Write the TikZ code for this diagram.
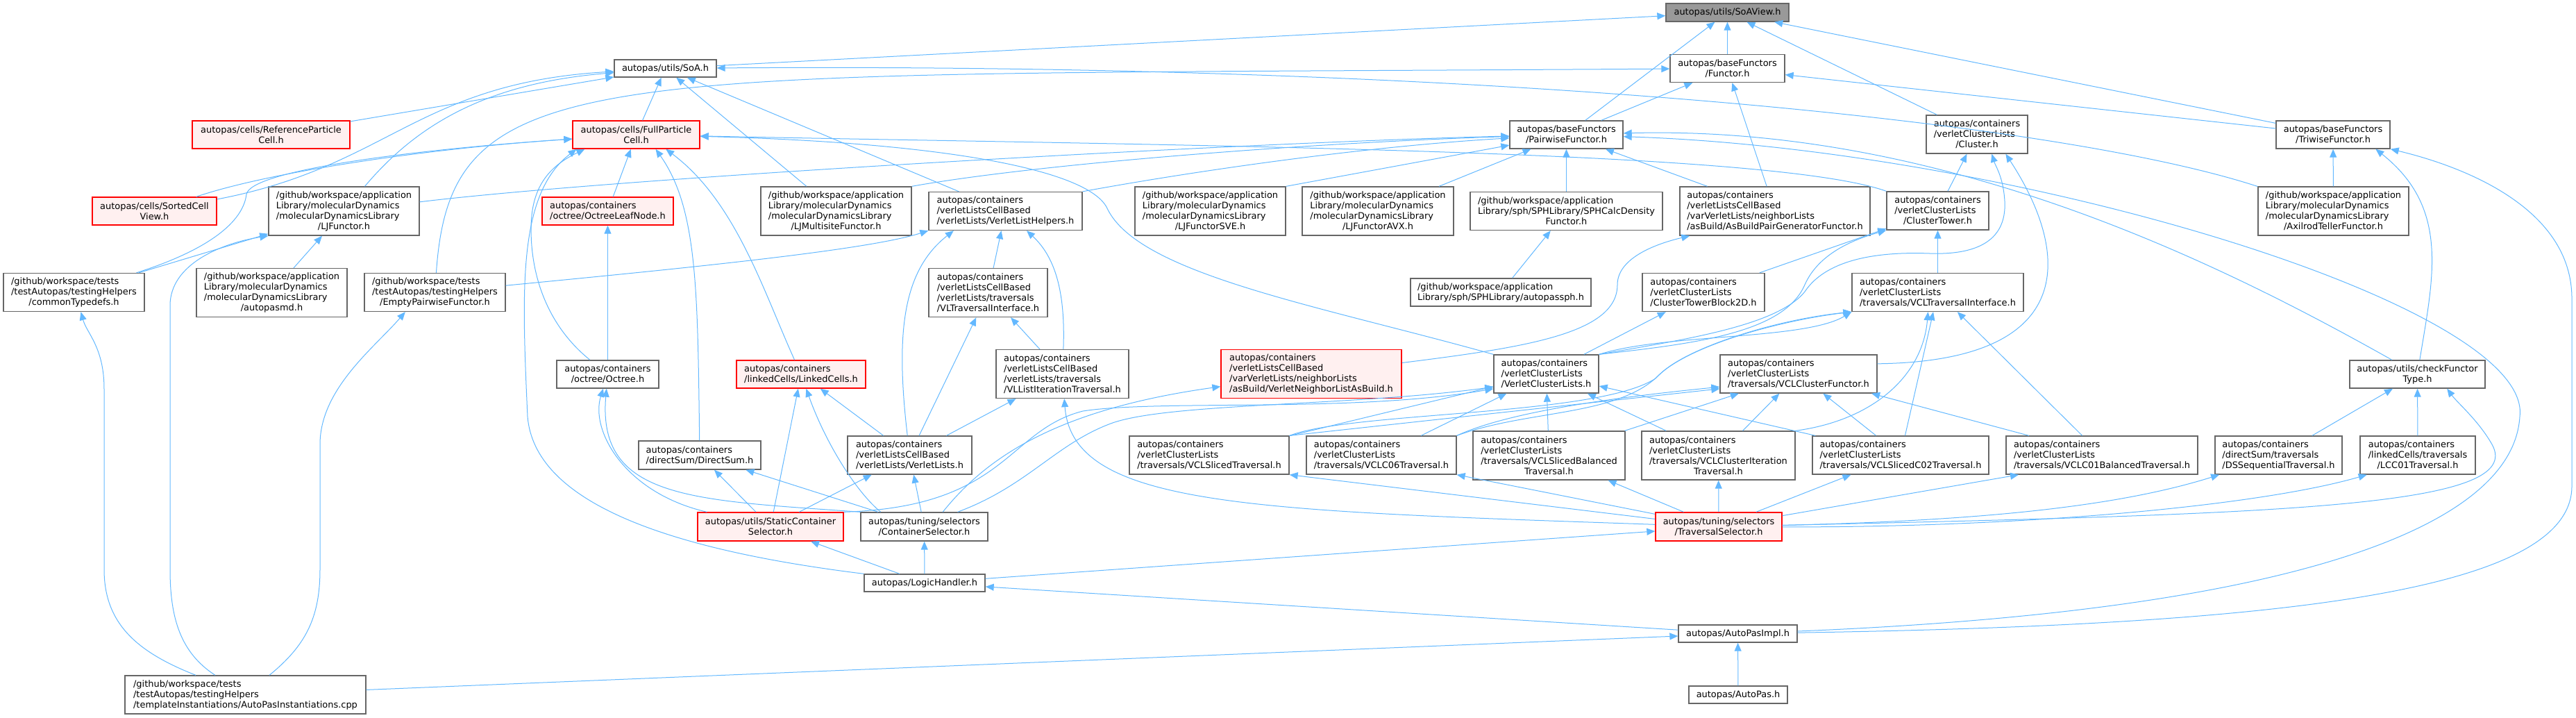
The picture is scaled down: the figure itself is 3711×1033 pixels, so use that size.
\documentclass[tikz,border=0pt]{standalone}
\usepackage{fontspec}
\setmainfont{DejaVu Sans}
\usetikzlibrary{arrows.meta}
\definecolor{edgeblue}{HTML}{63B8FF}
\definecolor{boxline}{HTML}{666666}
\definecolor{rootfill}{HTML}{999999}
\definecolor{cutfill}{HTML}{FFF0F0}

\begin{document}
\begin{tikzpicture}[
    x=0.75pt, y=-0.75pt,
    file/.style={draw=boxline, fill=white, line width=1pt, align=left, inner xsep=4pt, inner ysep=0pt, font=\fontsize{9.7}{11.25}\selectfont},
    cut/.style={file, draw=red, fill=cutfill},
    root/.style={file, fill=rootfill},
    dims/.style 2 args={minimum width=#1*0.75pt, minimum height=#2*0.75pt},
    arrow/.style={draw=edgeblue, line width=0.75pt, -{Triangle[length=9pt, width=7.5pt]}}
]
\useasboundingbox (0,0) rectangle (3711,1033);

\node[root, dims={177}{26}] (soaview) at (2488.5,18) {autopas/utils/SoAView.h};
\node[file, dims={147}{25}] (soa) at (958.5,98.5) {autopas/utils/SoA.h};
\node[file, dims={165}{40}] (functor) at (2488.5,98.5) {autopas/baseFunctors\\\hfil/Functor.h};
\node[cut, dims={227}{40}] (refcell) at (390.5,194) {autopas/cells/ReferenceParticle\\\hfil Cell.h};
\node[cut, dims={183}{40}] (fullcell) at (916.5,194) {autopas/cells/FullParticle\\\hfil Cell.h};
\node[file, dims={163}{40}] (pairwise) at (2256.5,194) {autopas/baseFunctors\\\hfil/PairwiseFunctor.h};
\node[file, dims={146}{55}] (cluster) at (2848,193.5) {autopas/containers\\/verletClusterLists\\\hfil/Cluster.h};
\node[file, dims={164}{40}] (triwise) at (3361,194) {autopas/baseFunctors\\\hfil/TriwiseFunctor.h};
\node[cut, dims={179}{40}] (sorted) at (222.5,304) {autopas/cells/SortedCell\\\hfil View.h};
\node[file, dims={217}{70}] (ljfunctor) at (495.5,304) {/github/workspace/application\\Library/molecularDynamics\\/molecularDynamicsLibrary\\\hfil/LJFunctor.h};
\node[cut, dims={189}{40}] (leafnode) at (875.5,304) {autopas/containers\\/octree/OctreeLeafNode.h};
\node[file, dims={217}{70}] (multisite) at (1204.5,304) {/github/workspace/application\\Library/molecularDynamics\\/molecularDynamicsLibrary\\\hfil/LJMultisiteFunctor.h};
\node[file, dims={221}{55}] (vlhelpers) at (1448.5,304) {autopas/containers\\/verletListsCellBased\\/verletLists/VerletListHelpers.h};
\node[file, dims={217}{70}] (ljsve) at (1743.5,304) {/github/workspace/application\\Library/molecularDynamics\\/molecularDynamicsLibrary\\\hfil/LJFunctorSVE.h};
\node[file, dims={218}{70}] (ljavx) at (1985,304) {/github/workspace/application\\Library/molecularDynamics\\/molecularDynamicsLibrary\\\hfil/LJFunctorAVX.h};
\node[file, dims={277}{55}] (sphdensity) at (2256.5,304) {/github/workspace/application\\Library/sph/SPHLibrary/SPHCalcDensity\\\hfil Functor.h};
\node[file, dims={274}{70}] (asbuildfunctor) at (2557,304) {autopas/containers\\/verletListsCellBased\\/varVerletLists/neighborLists\\/asBuild/AsBuildPairGeneratorFunctor.h};
\node[file, dims={147}{55}] (clustertower) at (2791.5,303.5) {autopas/containers\\/verletClusterLists\\\hfil/ClusterTower.h};
\node[file, dims={217}{70}] (axilrod) at (3361.5,304) {/github/workspace/application\\Library/molecularDynamics\\/molecularDynamicsLibrary\\\hfil/AxilrodTellerFunctor.h};
\node[file, dims={203}{55}] (typedefs) at (106.5,421) {/github/workspace/tests\\/testAutopas/testingHelpers\\\hfil/commonTypedefs.h};
\node[file, dims={217}{70}] (autopasmd) at (391.5,421.5) {/github/workspace/application\\Library/molecularDynamics\\/molecularDynamicsLibrary\\\hfil/autopasmd.h};
\node[file, dims={203}{55}] (emptyfunctor) at (626.5,421) {/github/workspace/tests\\/testAutopas/testingHelpers\\\hfil/EmptyPairwiseFunctor.h};
\node[file, dims={171}{70}] (vltraversal) at (1423.5,421.5) {autopas/containers\\/verletListsCellBased\\/verletLists/traversals\\/VLTraversalInterface.h};
\node[file, dims={260}{40}] (autopassph) at (2162,421) {/github/workspace/application\\Library/sph/SPHLibrary/autopassph.h};
\node[file, dims={176}{55}] (towerblock) at (2454,421) {autopas/containers\\/verletClusterLists\\/ClusterTowerBlock2D.h};
\node[file, dims={247}{55}] (vcltraversal) at (2791.5,421) {autopas/containers\\/verletClusterLists\\/traversals/VCLTraversalInterface.h};
\node[file, dims={147}{40}] (octree) at (875.5,539) {autopas/containers\\\hfil/octree/Octree.h};
\node[cut, dims={186}{40}] (linkedcells) at (1154,539) {autopas/containers\\/linkedCells/LinkedCells.h};
\node[file, dims={191}{70}] (vlliter) at (1530.5,538.5) {autopas/containers\\/verletListsCellBased\\/verletLists/traversals\\/VLListIterationTraversal.h};
\node[cut, dims={260}{70}] (asbuildlist) at (1889,538.5) {autopas/containers\\/verletListsCellBased\\/varVerletLists/neighborLists\\/asBuild/VerletNeighborListAsBuild.h};
\node[file, dims={151}{55}] (verletcluster) at (2227.5,538.5) {autopas/containers\\/verletClusterLists\\/VerletClusterLists.h};
\node[file, dims={226}{55}] (vclfunctor) at (2591,538.5) {autopas/containers\\/verletClusterLists\\/traversals/VCLClusterFunctor.h};
\node[file, dims={195}{40}] (checkfunctor) at (3482.5,539) {autopas/utils/checkFunctor\\\hfil Type.h};
\node[file, dims={176}{41}] (directsum) at (1008,655.5) {autopas/containers\\/directSum/DirectSum.h};
\node[file, dims={179}{55}] (verletlists) at (1310.5,655.5) {autopas/containers\\/verletListsCellBased\\/verletLists/VerletLists.h};
\node[file, dims={230}{55}] (vclsliced) at (1742,655.5) {autopas/containers\\/verletClusterLists\\/traversals/VCLSlicedTraversal.h};
\node[file, dims={216}{55}] (vclc06) at (1990,655.5) {autopas/containers\\/verletClusterLists\\/traversals/VCLC06Traversal.h};
\node[file, dims={219}{70}] (slicedbal) at (2231.5,656) {autopas/containers\\/verletClusterLists\\/traversals/VCLSlicedBalanced\\\hfil Traversal.h};
\node[file, dims={221}{70}] (clusteriter) at (2475.5,656) {autopas/containers\\/verletClusterLists\\/traversals/VCLClusterIteration\\\hfil Traversal.h};
\node[file, dims={254}{55}] (slicedc02) at (2738,655.5) {autopas/containers\\/verletClusterLists\\/traversals/VCLSlicedC02Traversal.h};
\node[file, dims={276}{55}] (vclc01bal) at (3028,655.5) {autopas/containers\\/verletClusterLists\\/traversals/VCLC01BalancedTraversal.h};
\node[file, dims={183}{55}] (dsseq) at (3282.5,655.5) {autopas/containers\\/directSum/traversals\\/DSSequentialTraversal.h};
\node[file, dims={166}{55}] (lcc01) at (3483,655.5) {autopas/containers\\/linkedCells/traversals\\\hfil/LCC01Traversal.h};
\node[cut, dims={210}{41}] (staticsel) at (1110,758.5) {autopas/utils/StaticContainer\\\hfil Selector.h};
\node[file, dims={183}{41}] (containersel) at (1331.5,758.5) {autopas/tuning/selectors\\\hfil/ContainerSelector.h};
\node[cut, dims={182}{41}] (travsel) at (2476,758.5) {autopas/tuning/selectors\\\hfil/TraversalSelector.h};
\node[file, dims={174}{25}] (logichandler) at (1332,839.5) {autopas/LogicHandler.h};
\node[file, dims={171}{25}] (autopasimpl) at (2503.5,912.5) {autopas/AutoPasImpl.h};
\node[file, dims={347}{55}] (autopasinst) at (353.5,1000.5) {/github/workspace/tests\\/testAutopas/testingHelpers\\/templateInstantiations/AutoPasInstantiations.cpp};
\node[file, dims={142}{25}] (autopas) at (2504,1000.5) {autopas/AutoPas.h};

\draw[arrow] (soa) -- (soaview);
\draw[arrow] (pairwise) -- (soaview);
\draw[arrow] (functor) -- (soaview);
\draw[arrow] (cluster) -- (soaview);
\draw[arrow] (triwise) -- (soaview);
\draw[arrow] (refcell) -- (soa);
\draw[arrow] (sorted) .. controls (560,240) and (600,120) .. (soa);
\draw[arrow] (ljfunctor) .. controls (600,180) and (700,120) .. (soa);
\draw[arrow] (fullcell) -- (soa);
\draw[arrow] (multisite) -- (soa);
\draw[arrow] (vlhelpers) -- (soa);
\draw[arrow] (axilrod) .. controls (2950,170) and (2100,90) .. (soa);
\draw[arrow] (pairwise) -- (functor);
\draw[arrow] (asbuildfunctor) -- (functor);
\draw[arrow] (triwise) -- (functor);
\draw[arrow] (emptyfunctor) .. controls (650,80) and (850,110) .. (functor);
\draw[arrow] (ljfunctor) .. controls (900,255) and (1800,205) .. (pairwise);
\draw[arrow] (multisite.north east) .. controls (1500,235) and (1900,205) .. (pairwise);
\draw[arrow] (vlhelpers.north east) .. controls (1700,250) and (1950,212) .. (pairwise);
\draw[arrow] (ljsve.north east) -- (pairwise);
\draw[arrow] (ljavx) -- (pairwise);
\draw[arrow] (sphdensity) -- (pairwise);
\draw[arrow] (asbuildfunctor) -- (pairwise);
\draw[arrow] (checkfunctor) .. controls (3200,380) and (2800,180) .. (pairwise);
\draw[arrow] (autopasimpl) .. controls (3300,880) and (3620,760) .. (3630,600) .. controls (3650,440) and (2900,215) .. (pairwise);
\draw[arrow] (sorted) .. controls (380,250) and (600,215) .. (fullcell);
\draw[arrow] ([xshift=67.5pt]typedefs.north) .. controls (300,360) and (350,320) .. (355,280) .. controls (360,245) and (600,215) .. (fullcell);
\draw[arrow] (octree) .. controls (790,470) and (765,400) .. (765,330) .. controls (765,270) and (790,240) .. ([xshift=-55.5pt]fullcell.south);
\draw[arrow] (logichandler.north west) .. controls (950,790) and (770,720) .. (760,600) .. controls (752,420) and (745,280) .. ([xshift=-64.5pt]fullcell.south);
\draw[arrow] (leafnode) -- (fullcell);
\draw[arrow] (directsum) .. controls (1005,420) and (1005,300) .. ([xshift=21pt]fullcell.south);
\draw[arrow] (linkedcells) .. controls (1100,420) and (1060,290) .. ([xshift=32pt]fullcell.south);
\draw[arrow] (clustertower.north west) .. controls (2550,215) and (1700,210) .. (fullcell);
\draw[arrow] (verletcluster.north west) .. controls (1900,440) and (1640,395) .. (1595,300) .. controls (1568,243) and (1350,205) .. (fullcell);
\draw[arrow] (typedefs) -- (ljfunctor);
\draw[arrow] (autopasinst) .. controls (260,940) and (245,890) .. (245,820) -- (245,440) .. controls (245,380) and (320,350) .. (ljfunctor.south west);
\draw[arrow] (autopasmd) -- (ljfunctor);
\draw[arrow] (octree) -- (leafnode);
\draw[arrow] (emptyfunctor) .. controls (1000,385) and (1250,360) .. (vlhelpers.south west);
\draw[arrow] (verletlists) .. controls (1290,480) and (1300,390) .. ([xshift=-56pt]vlhelpers.south);
\draw[arrow] (vltraversal) -- (vlhelpers);
\draw[arrow] (vlliter) .. controls (1535,420) and (1520,370) .. (vlhelpers);
\draw[arrow] (verletlists) -- (vltraversal);
\draw[arrow] (vlliter) -- (vltraversal);
\draw[arrow] (verletlists) -- (vlliter);
\draw[arrow] (travsel) .. controls (1800,735) and (1545,730) .. (vlliter);
\draw[arrow] (staticsel) -- (linkedcells);
\draw[arrow] ([xshift=-47pt]containersel.north) .. controls (1235,710) and (1190,640) .. (linkedcells);
\draw[arrow] (verletlists) -- (linkedcells);
\draw[arrow] (staticsel) -- (directsum);
\draw[arrow] (containersel) -- (directsum);
\draw[arrow] (staticsel) -- (verletlists);
\draw[arrow] (containersel) -- (verletlists);
\draw[arrow] (staticsel) .. controls (900,710) and (850,620) .. (octree);
\draw[arrow] (containersel.north west) .. controls (1000,720) and (860,720) .. (octree);
\draw[arrow] ([xshift=20pt]containersel.north) .. controls (1420,660) and (1520,590) .. (asbuildlist);
\draw[arrow] (staticsel.north east) .. controls (1450,730) and (1450,620) .. (1560,592) .. controls (1670,575) and (1950,595) .. ([yshift=-16pt]verletcluster.west);
\draw[arrow] ([xshift=36pt]containersel.north) .. controls (1480,700) and (1520,640) .. (1600,610) .. controls (1680,580) and (1950,585) .. ([yshift=-14pt]verletcluster.west);
\draw[arrow] (vclsliced) -- (verletcluster);
\draw[arrow] (vclc06) -- (verletcluster);
\draw[arrow] (slicedbal) -- (verletcluster);
\draw[arrow] (clusteriter) -- (verletcluster);
\draw[arrow] (slicedc02) -- (verletcluster);
\draw[arrow] (verletcluster) -- (towerblock);
\draw[arrow] (towerblock) -- (clustertower);
\draw[arrow] (vcltraversal) -- (clustertower);
\draw[arrow] (verletcluster.north east) .. controls (2440,495) and (2570,480) .. (2600,410) .. controls (2620,365) and (2670,345) .. (clustertower.south west);
\draw[arrow] (verletcluster.north east) .. controls (2400,480) and (2600,490) .. (vcltraversal.south west);
\draw[arrow] (vclc06.north east) .. controls (2200,590) and (2330,600) .. (2390,540) .. controls (2430,500) and (2560,460) .. (vcltraversal.south west);
\draw[arrow] (vclsliced.north east) .. controls (1950,592) and (2300,600) .. (2385,545) .. controls (2425,500) and (2560,462) .. (vcltraversal.south west);
\draw[arrow] (clusteriter.north east) .. controls (2700,605) and (2770,540) .. ([xshift=-10.5pt]vcltraversal.south);
\draw[arrow] (slicedc02) -- (vcltraversal);
\draw[arrow] (vclc01bal) -- (vcltraversal);
\draw[arrow] (vclsliced.north east) -- ([yshift=-16pt]vclfunctor.west);
\draw[arrow] (vclc06.north east) .. controls (2180,590) and (2350,570) .. ([yshift=-14pt]vclfunctor.west);
\draw[arrow] (slicedbal) -- (vclfunctor);
\draw[arrow] (clusteriter) -- (vclfunctor);
\draw[arrow] (slicedc02) -- (vclfunctor);
\draw[arrow] (vclc01bal) -- (vclfunctor);
\draw[arrow] (clustertower) -- (cluster);
\draw[arrow] ([yshift=11pt]vclfunctor.east) .. controls (3000,520) and (2980,360) .. ([xshift=31pt]cluster.south);
\draw[arrow] (verletcluster.north east) .. controls (2420,490) and (2560,470) .. (2600,420) .. controls (2630,375) and (2700,362) .. (2780,365) .. controls (2870,368) and (2890,330) .. (2888,290) .. controls (2886,255) and (2875,240) .. ([xshift=16pt]cluster.south);
\draw[arrow] (dsseq) -- (checkfunctor);
\draw[arrow] (lcc01) -- (checkfunctor);
\draw[arrow] (travsel) .. controls (3300,740) and (3640,730) .. (3590,640) .. controls (3570,605) and (3540,580) .. ([xshift=32pt]checkfunctor.south);
\draw[arrow] (axilrod) -- (triwise);
\draw[arrow] (checkfunctor) .. controls (3505,400) and (3530,300) .. ([xshift=46pt]triwise.south);
\draw[arrow] (autopasimpl) .. controls (3300,900) and (3705,850) .. (3705,700) -- (3705,430) .. controls (3705,300) and (3550,240) .. (triwise.south east);
\draw[arrow] ([yshift=12pt]asbuildlist.east) .. controls (2200,500) and (2330,480) .. (2330,410) .. controls (2330,370) and (2390,350) .. ([xshift=-92pt]asbuildfunctor.south);
\draw[arrow] (autopassph) -- (sphdensity);
\draw[arrow] (logichandler) -- (travsel);
\draw[arrow] (logichandler) -- (staticsel);
\draw[arrow] (logichandler) -- (containersel);
\draw[arrow] (travsel) -- (vclsliced.south east);
\draw[arrow] (travsel) -- (vclc06.south east);
\draw[arrow] (travsel) -- (slicedbal);
\draw[arrow] (travsel) -- (clusteriter);
\draw[arrow] (travsel) -- (slicedc02);
\draw[arrow] (travsel) -- ([xshift=-90pt]vclc01bal.south);
\draw[arrow] (travsel) .. controls (2850,750) and (3050,730) .. ([xshift=-64pt]dsseq.south);
\draw[arrow] (travsel) .. controls (2900,760) and (3250,730) .. ([xshift=-55pt]lcc01.south);
\draw[arrow] (autopasimpl) -- (logichandler);
\draw[arrow] (autopasinst) -- (autopasimpl);
\draw[arrow] (autopas) -- (autopasimpl);
\draw[arrow] (autopasinst) .. controls (200,940) and (150,900) .. (150,820) -- (150,560) .. controls (150,500) and (125,480) .. ([xshift=7.5pt]typedefs.south);
\draw[arrow] (autopasinst) .. controls (440,930) and (461,890) .. (461,820) -- (461,640) .. controls (461,560) and (540,500) .. ([xshift=-32pt]emptyfunctor.south);
\end{tikzpicture}
\end{document}
